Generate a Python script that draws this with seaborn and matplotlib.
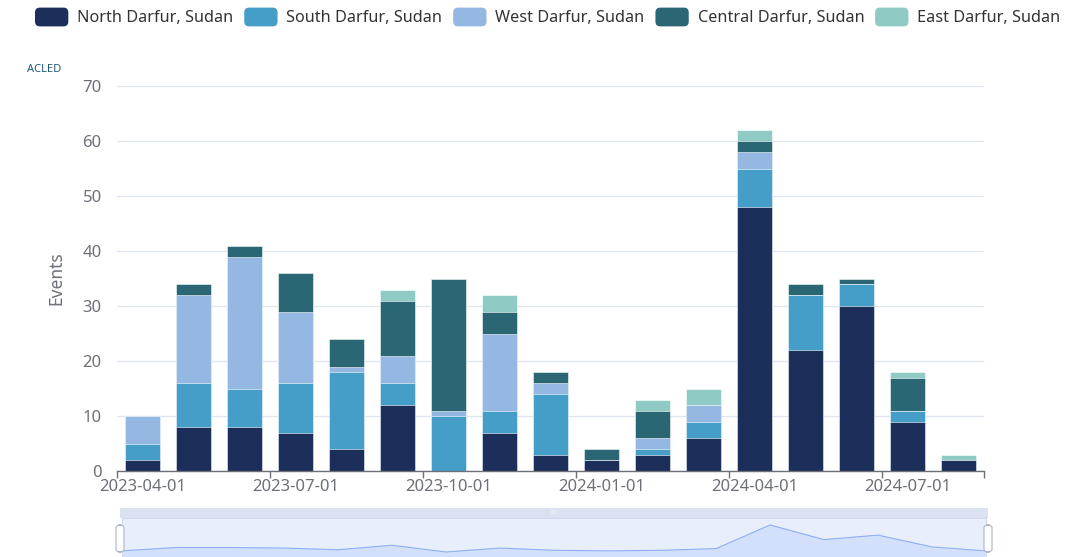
import matplotlib
matplotlib.use('Agg')
import matplotlib.pyplot as plt
from matplotlib.patches import Patch, FancyBboxPatch
from matplotlib.legend_handler import HandlerPatch
from matplotlib.ticker import FixedLocator
import seaborn as sns
import pandas as pd

# Monthly event counts per region
months = ['2023-04-01', '2023-05-01', '2023-06-01', '2023-07-01', '2023-08-01',
          '2023-09-01', '2023-10-01', '2023-11-01', '2023-12-01', '2024-01-01',
          '2024-02-01', '2024-03-01', '2024-04-01', '2024-05-01', '2024-06-01',
          '2024-07-01', '2024-08-01']
north = [2, 8, 8, 7, 4, 12, 0, 7, 3, 2, 3, 6, 48, 22, 30, 9, 2]
south = [3, 8, 7, 9, 14, 4, 10, 4, 11, 0, 1, 3, 7, 10, 4, 2, 0]
west = [5, 16, 24, 13, 1, 5, 1, 14, 2, 0, 2, 3, 3, 0, 0, 0, 0]
central = [0, 2, 2, 7, 5, 10, 24, 4, 2, 2, 5, 0, 2, 2, 1, 6, 0]
east = [0, 0, 0, 0, 0, 2, 0, 3, 0, 0, 2, 3, 2, 0, 0, 1, 1]

regions = ['North Darfur, Sudan', 'South Darfur, Sudan', 'West Darfur, Sudan',
           'Central Darfur, Sudan', 'East Darfur, Sudan']
colors = ['#1c2f5b', '#459ec8', '#95b8e3', '#2a6673', '#8fcbc4']
tick_every = 3

sns.set_style('white')
plt.rcParams['font.family'] = ['Noto Sans', 'DejaVu Sans']

df = pd.DataFrame({'month': months, 'North': north, 'South': south,
                   'West': west, 'Central': central, 'East': east})
cols = ['North', 'South', 'West', 'Central', 'East']
cum = df[cols].cumsum(axis=1)

fig = plt.figure(figsize=(10.7, 5.57), dpi=100)
ax = fig.add_axes([117 / 1070, 86 / 557, 867 / 1070, 385 / 557])

# stacked look: draw cumulative totals from the top series down
for col, c in zip(cols[::-1], colors[::-1]):
    sns.barplot(x=df['month'], y=cum[col], color=c, saturation=1, width=0.69,
                errorbar=None, ax=ax, edgecolor='white', linewidth=0.4, order=months)

ax.set_xlim(-0.5, len(months) - 0.5)
ax.set_ylim(0, 70)
ax.set_yticks(range(0, 71, 10))
ax.yaxis.grid(True, color='#e0e6f1', linewidth=1)
ax.set_axisbelow(True)
for s in ['top', 'right', 'left']:
    ax.spines[s].set_visible(False)
ax.spines['bottom'].set_color('#6e7079')
ax.spines['bottom'].set_linewidth(1)

major = list(range(0, len(months), tick_every))
ax.set_xticks(major)
ax.set_xticklabels([months[i] for i in major])
ax.xaxis.set_minor_locator(FixedLocator([i - 0.5 for i in major] + [len(months) - 0.5]))
ax.tick_params(axis='x', which='major', length=0, pad=6, labelsize=12, labelcolor='#6e7079')
ax.tick_params(axis='x', which='minor', length=5, color='#6e7079', width=1, bottom=True)
ax.tick_params(axis='y', length=0, pad=11, labelsize=12, labelcolor='#6e7079')
ax.set_xlabel('')
ax.set_ylabel('Events', fontsize=12.5, color='#6e7079', labelpad=12)


class RoundHandler(HandlerPatch):
    def create_artists(self, legend, orig_handle, xdescent, ydescent, width, height, fontsize, trans):
        p = FancyBboxPatch((-xdescent, -ydescent), width, height,
                           boxstyle='round,pad=0,rounding_size=3.5',
                           facecolor=orig_handle.get_facecolor(), edgecolor='none', transform=trans)
        return [p]


handles = [Patch(facecolor=c, label=r) for r, c in zip(regions, colors)]
fig.legend(handles=handles, loc='center left', bbox_to_anchor=(35 / 1070, 1 - 17 / 557),
           ncol=5, frameon=False, fontsize=11.7, handlelength=2.05, handleheight=1.4,
           handletextpad=0.55, columnspacing=0.66, borderpad=0, borderaxespad=0,
           labelcolor='#333333', handler_map={Patch: RoundHandler()})

# logo text
fig.text(44 / 1070, 1 - 70 / 557, 'ACLED', fontsize=8, fontweight='bold',
         color='#1e5a7a', ha='center', va='center')

# data zoom slider with the North Darfur series
sl = fig.add_axes([122 / 1070, 0, 864 / 1070, 39 / 557])
sl.set_facecolor('#e8eefc')
sns.lineplot(x=range(len(north)), y=north, ax=sl, color='#8fb0f7', linewidth=0.8)
sl.fill_between(range(len(north)), north, -20, color='#d3e0fb')
sl.set_xlim(0, len(north) - 1)
sl.set_ylim(-8.9, 60.4)
sl.set_xticks([])
sl.set_yticks([])
for s in sl.spines.values():
    s.set_color('#d2dbee')
    s.set_linewidth(0.8)
top = fig.add_axes([120 / 1070, 39 / 557, 868 / 1070, 10 / 557])
top.set_facecolor('#dae1f0')
top.set_xticks([])
top.set_yticks([])
for s in top.spines.values():
    s.set_visible(False)
top.text(0.5, 0.5, 'III', fontsize=4, color='white', ha='center', va='center',
         transform=top.transAxes)
for hx in [120, 988]:
    fig.patches.append(FancyBboxPatch(((hx - 4) / 1070, 5 / 557), 8 / 1070, 27 / 557,
                                      boxstyle='round,pad=0,rounding_size=0.005',
                                      facecolor='white', edgecolor='#aab4c8', linewidth=0.8,
                                      transform=fig.transFigure))

fig.savefig('out.png', dpi=100)
